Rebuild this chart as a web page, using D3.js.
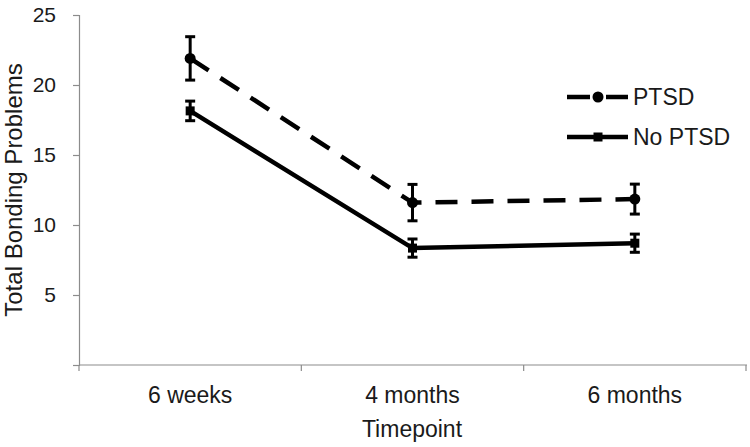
<!DOCTYPE html>
<html><head><meta charset="utf-8">
<script src="https://cdn.jsdelivr.net/npm/d3@7"></script>
<style>body{margin:0;background:#fff}svg{display:block}text{font-family:Arial,"Liberation Sans",sans-serif;fill:#1a1a1a}</style>
</head><body><div id="chart"></div>
<script>
const categories = ["6 weeks", "4 months", "6 months"];
const ptsd = [21.9, 11.6, 11.85];
const ptsdErr = [1.55, 1.3, 1.07];
const noPtsd = [18.15, 8.35, 8.7];
const noPtsdErr = [0.7, 0.65, 0.65];
const yTicks = [5, 10, 15, 20, 25];
const seriesNames = ["PTSD", "No PTSD"];

const W = 750, H = 447;
const svg = d3.select("#chart").append("svg").attr("width", W).attr("height", H);

const x = d3.scaleBand().domain(categories).range([79, 746]).padding(0);
const y = d3.scaleLinear().domain([0, 25]).range([365, 15]);
const axisColor = "#8c8c8c";

// Y axis
const ya = svg.append("g").attr("transform", "translate(79,0)")
  .call(d3.axisLeft(y).tickValues([0].concat(yTicks)).tickSize(6).tickPadding(17).tickFormat(d => d === 0 ? "" : d));
ya.select(".domain").attr("stroke", axisColor).attr("stroke-width", 1.2);
ya.selectAll(".tick line").attr("stroke", axisColor).attr("stroke-width", 1.2);
ya.selectAll(".tick text").attr("font-size", 21).attr("font-family", "Arial, 'Liberation Sans', sans-serif").attr("fill", "#1a1a1a");

// X axis line & boundary ticks
svg.append("line").attr("x1", 79).attr("x2", 747).attr("y1", y(0)).attr("y2", y(0))
  .attr("stroke", axisColor).attr("stroke-width", 1.2);
const bounds = categories.map(c => x(c)).concat([x(categories[categories.length-1]) + x.bandwidth()]);
svg.selectAll(".xt").data(bounds).join("line")
  .attr("x1", d => d).attr("x2", d => d).attr("y1", y(0)).attr("y2", y(0) + 6)
  .attr("stroke", axisColor).attr("stroke-width", 1.2);
svg.selectAll(".xl").data(categories).join("text")
  .attr("x", d => x(d) + x.bandwidth()/2).attr("y", 403)
  .attr("text-anchor", "middle").attr("font-size", 23).text(d => d);

// Axis titles
svg.append("text").attr("x", 412).attr("y", 437).attr("text-anchor", "middle")
  .attr("font-size", 23).text("Timepoint");
svg.append("text").attr("transform", "translate(22,190) rotate(-90)")
  .attr("text-anchor", "middle").attr("font-size", 24).text("Total Bonding Problems");

const cx = d => x(d) + x.bandwidth()/2;
const line = d3.line().x(d => cx(d.c)).y(d => y(d.v));
const series = [
  {name: seriesNames[0], vals: ptsd, err: ptsdErr, dash: "22,14", marker: "circle"},
  {name: seriesNames[1], vals: noPtsd, err: noPtsdErr, dash: null, marker: "square"}
];

series.forEach(s => {
  const pts = categories.map((c, i) => ({c, v: s.vals[i], e: s.err[i]}));
  svg.append("path").datum(pts).attr("d", line).attr("fill", "none")
    .attr("stroke", "#000").attr("stroke-width", 4.5)
    .attr("stroke-dasharray", s.dash);
  const g = svg.append("g");
  pts.forEach(p => {
    const px = cx(p.c);
    g.append("line").attr("x1", px).attr("x2", px).attr("y1", y(p.v + p.e)).attr("y2", y(p.v - p.e))
      .attr("stroke", "#000").attr("stroke-width", 3);
    [p.v + p.e, p.v - p.e].forEach(ev => {
      g.append("line").attr("x1", px - 5).attr("x2", px + 5).attr("y1", y(ev)).attr("y2", y(ev))
        .attr("stroke", "#000").attr("stroke-width", 3);
    });
    if (s.marker === "circle") {
      g.append("circle").attr("cx", px).attr("cy", y(p.v)).attr("r", 5.5).attr("fill", "#000");
    } else {
      g.append("rect").attr("x", px - 4.5).attr("y", y(p.v) - 4.5).attr("width", 9).attr("height", 9).attr("fill", "#000");
    }
  });
});

// Legend
const lg = svg.append("g");
series.forEach((s, i) => {
  const ly = 97 + i * 40;
  if (s.dash) {
    lg.append("line").attr("x1", 567).attr("x2", 590).attr("y1", ly).attr("y2", ly).attr("stroke", "#000").attr("stroke-width", 4.5);
    lg.append("line").attr("x1", 606).attr("x2", 628).attr("y1", ly).attr("y2", ly).attr("stroke", "#000").attr("stroke-width", 4.5);
    lg.append("circle").attr("cx", 598).attr("cy", ly).attr("r", 5.5).attr("fill", "#000");
  } else {
    lg.append("line").attr("x1", 567).attr("x2", 628).attr("y1", ly).attr("y2", ly).attr("stroke", "#000").attr("stroke-width", 4.5);
    lg.append("rect").attr("x", 593.5).attr("y", ly - 4.5).attr("width", 9).attr("height", 9).attr("fill", "#000");
  }
  lg.append("text").attr("x", 633).attr("y", ly + 8).attr("font-size", 23).text(s.name);
});
</script></body></html>
